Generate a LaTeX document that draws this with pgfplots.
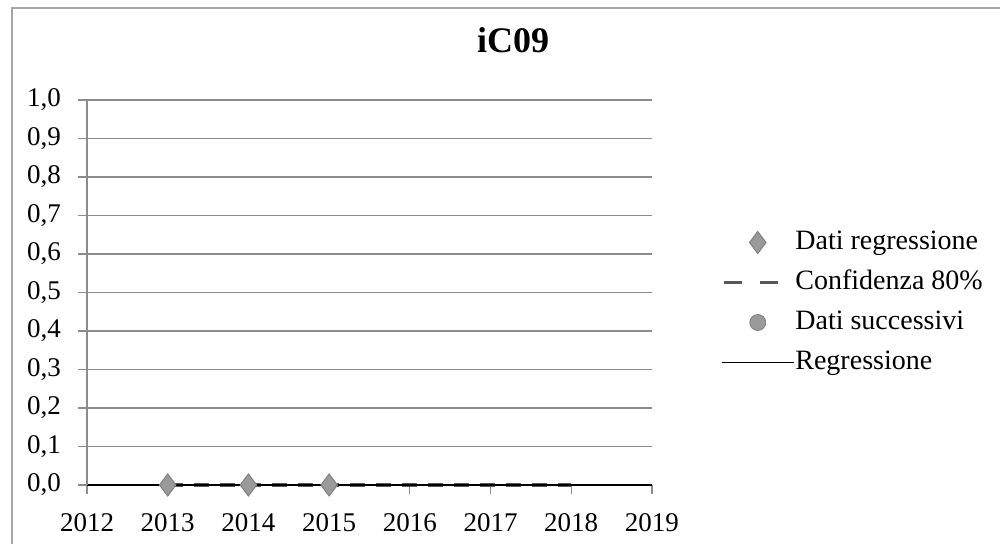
\documentclass[border=0pt]{standalone}
\usepackage{fontspec}
\setmainfont{Liberation Serif}
\usepackage{pgfplots}
\pgfplotsset{compat=1.18}
\definecolor{gridgray}{HTML}{8C8C8C}
\definecolor{markgray}{HTML}{9A9A9A}
\definecolor{dashgray}{HTML}{595959}

\begin{document}
\begin{tikzpicture}
% page = 1000 x 544 px at 0.5pt per px
\useasboundingbox (0pt,0pt) rectangle (500pt,-272pt);
\draw[gray!70, line width=0.6pt] (6pt,-275pt) -- (6pt,-4pt) -- (505pt,-4pt);
\node[font=\fontsize{18}{21}\selectfont\bfseries] at (256.5pt,-20pt) {iC09};

\begin{axis}[
  at={(43.5pt,-242.5pt)}, anchor=south west,
  scale only axis,
  width=282.5pt, height=192.5pt,
  xmin=2012, xmax=2019,
  ymin=0, ymax=1,
  xtick={2012,...,2019},
  ytick={0,0.1,...,1.0},
  axis x line=bottom, axis y line=left,
  x axis line style={-, black, line width=0.7pt},
  y axis line style={-, gridgray, line width=0.6pt},
  tick align=outside,
  major tick length=4.5pt,
  tick style={gridgray, line width=0.6pt},
  ymajorgrids,
  grid style={gridgray, line width=0.6pt},
  tick label style={font=\fontsize{13.5}{15}\selectfont},
  /pgf/number format/assume math mode=true,
  yticklabel style={xshift=-5pt, /pgf/number format/.cd, use comma, fixed, fixed zerofill, precision=1},
  xticklabel style={yshift=-6pt, /pgf/number format/.cd, 1000 sep={}},
  clip=false,
  legend style={at={(rel axis cs:1.12,0.474)}, anchor=west, draw=none, fill=none,
    inner sep=0pt, row sep=7pt, font=\fontsize{14}{16}\selectfont,
    nodes={inner sep=0pt, text height=10pt, text depth=3pt}},
  legend cell align=left,
  legend image code/.code={\draw[mark repeat=2, mark phase=2, #1]
    plot coordinates {(0pt,0pt) (18pt,0pt) (36pt,0pt)};},
]
% confidence band (upper and lower), both at 0
\addplot[dashgray, line width=1.6pt, dash pattern=on 7.5pt off 5.5pt, forget plot]
  coordinates {(2013,0) (2014,0) (2015,0) (2016,0) (2017,0) (2018,0)};
% regression
\addplot[black, line width=0.8pt, forget plot]
  coordinates {(2013,0) (2018,0)};
% data points
\addplot[only marks, mark=diamond*, mark size=5.5pt, mark options={fill=markgray, draw=gray, line width=0.5pt}]
  coordinates {(2013,0) (2014,0) (2015,0)};
\addlegendentry{Dati regressione}
\addlegendimage{dashgray, line width=1.6pt, dash pattern=on 9pt off 9pt, dash phase=-1pt}
\addlegendentry{Confidenza 80\%}
\addlegendimage{only marks, mark=*, mark size=4pt, mark options={fill=markgray, draw=gray}}
\addlegendentry{Dati successivi}
\addlegendimage{black, line width=0.8pt}
\addlegendentry{Regressione}
\end{axis}
\end{tikzpicture}
\end{document}
